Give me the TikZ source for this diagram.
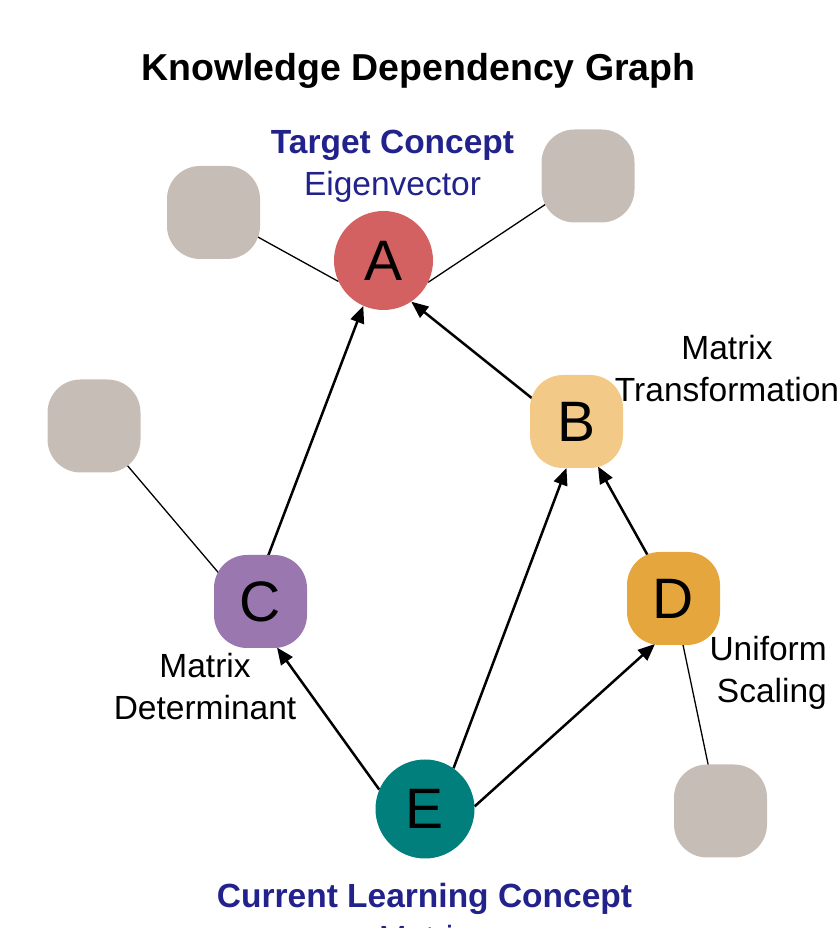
\documentclass[tikz,border=0pt]{standalone}
\usepackage{fontspec}
\setmainfont{Liberation Sans}
\usepackage{xcolor}
\usetikzlibrary{arrows.meta,backgrounds}
\definecolor{KGRed}{HTML}{D46161}
\definecolor{KGPeach}{HTML}{F2C987}
\definecolor{KGPurple}{HTML}{9B77B0}
\definecolor{KGAmber}{HTML}{E5A63D}
\definecolor{KGTeal}{HTML}{007F7C}
\definecolor{KGGrey}{HTML}{C7BDB7}
\definecolor{KGNavy}{HTML}{22228C}
\tikzset{
  kgcircle/.style={circle,minimum size=99pt,inner sep=0pt,font=\fontsize{57}{60}\selectfont},
  kgblob/.style={rectangle,rounded corners=33pt,minimum size=93pt,inner sep=0pt,font=\fontsize{57}{60}\selectfont},
  kglink/.style={line width=1.3pt},
  kgdep/.style={line width=2.5pt,-{Triangle[length=17pt,width=14pt]}},
  kglabel/.style={align=center,inner sep=0pt,font=\fontsize{33.5}{42}\selectfont}
}

\begin{document}
\begin{tikzpicture}[x=1pt,y=1pt]
\path[use as bounding box] (0,0) rectangle (837,928);
\clip (0,0) rectangle (837,928);
\node[inner sep=0pt,anchor=base,font=\fontsize{37.5}{45}\selectfont\bfseries] (title) at (418.5,847) {Knowledge Dependency Graph};
\node[kgcircle,fill=KGRed] (A) at (383.5,667.5) {A};
\node[kgblob,fill=KGPeach] (B) at (576.5,506.5) {B};
\node[kgblob,fill=KGPurple] (C) at (260.5,326.5) {C};
\node[kgblob,fill=KGAmber] (D) at (673.5,329.5) {D};
\node[kgcircle,fill=KGTeal] (E) at (425,119) {E};
\node[kgblob,fill=KGGrey] (g1) at (213.5,715.5) {};
\node[kgblob,fill=KGGrey] (g2) at (588,752) {};
\node[kgblob,fill=KGGrey] (g3) at (94,502) {};
\node[kgblob,fill=KGGrey] (g4) at (720.5,117) {};
\node[kglabel,text=KGNavy,anchor=north] (tgt) at (392.5,798) {\textbf{Target Concept}\\Eigenvector};
\node[kglabel,anchor=north] (labB) at (727,593) {Matrix\\Transformation};
\node[kglabel,anchor=north] (labC) at (205,275) {Matrix\\Determinant};
\node[kglabel,align=right,anchor=north east] (labD) at (827,292) {Uniform\\Scaling};
\node[kglabel,text=KGNavy,anchor=north] (cur) at (424.5,45) {\textbf{Current Learning Concept}\\Matrix};
\begin{scope}[on background layer]
\draw[kglink] ([shift={(38,-21)}]g1.center) -- (A.-155);
\draw[kglink] ([shift={(-36,-24)}]g2.center) -- (A.-26);
\draw[kglink] ([shift={(27,-32)}]g3.center) -- ([shift={(-38,24)}]C.center);
\draw[kglink] ([shift={(-11,40)}]g4.center) -- ([shift={(9,-44)}]D.center);
\draw[kgdep] ([shift={(7,44)}]C.center) -- (A.-114);
\draw[kgdep] ([shift={(-38,18)}]B.center) -- (A.-56);
\draw[kgdep] (E.157) -- ([shift={(16.5,-46)}]C.center);
\draw[kgdep] (E.55) -- ([shift={(-10,-46.5)}]B.center);
\draw[kgdep] (E.3) -- ([shift={(-18.5,-45.5)}]D.center);
\draw[kgdep] ([shift={(-24,40)}]D.center) -- ([shift={(21.5,-45)}]B.center);
\end{scope}
\end{tikzpicture}
\end{document}
